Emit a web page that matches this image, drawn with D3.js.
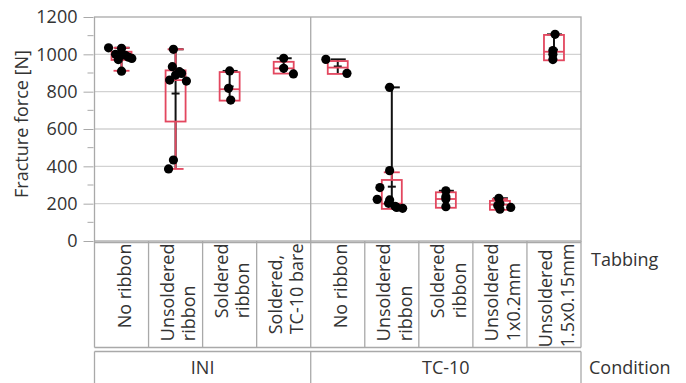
<!DOCTYPE html>
<html>
<head>
<meta http-equiv='Content-Type' content='text/html;charset=utf-8'/>
<title>Fracture force</title>
<script src='https://d3js.org/d3.v7.min.js'></script>
<style>
body {
	margin: 0;
	background: #ffffff;
	font-family: 'Open Sans', sans-serif;
}
svg text {
	fill: #333333;
	font-size: 18px;
	font-family: 'Open Sans', sans-serif;
}
</style>
</head>
<body>
<script>
'use strict'

// tabbing categories, one label (split in lines) per column
const tabbingLabels = [
	['No ribbon'],
	['Unsoldered', 'ribbon'],
	['Soldered', 'ribbon'],
	['Soldered,', 'TC-10 bare'],
	['No ribbon'],
	['Unsoldered', 'ribbon'],
	['Soldered', 'ribbon'],
	['Unsoldered', '1x0.2mm'],
	['Unsoldered', '1.5x0.15mm']
]

// condition groups and how many tabbing columns each spans
const conditions = ['INI', 'TC-10']
const conditionSpan = [4, 5]

// measured fracture forces [N] for each column
const forces = [
	[1035, 1032, 1000, 995, 990, 985, 978, 972, 910],
	[1027, 934, 907, 898, 889, 862, 857, 434, 386],
	[911, 818, 755],
	[979, 925, 895],
	[973, 898],
	[823, 377, 286, 223, 220, 202, 186, 180, 175],
	[269, 237, 225, 184],
	[229, 200, 190, 180, 170],
	[1107, 1020, 1000, 972]
]

// horizontal jitter of the points, as a share of the column width
const jitter = [
	[-0.24, 0, -0.11, 0.07, -0.04, 0.13, 0.19, -0.06, 0],
	[-0.04, -0.06, 0.07, 0.11, 0, -0.11, 0.2, -0.04, -0.13],
	[0, -0.02, 0.02],
	[0, 0, 0.18],
	[-0.22, 0.17],
	[-0.04, -0.04, -0.22, -0.27, -0.04, -0.06, 0.06, 0.09, 0.2],
	[0, 0, 0, 0],
	[-0.02, 0, -0.04, 0.2, 0],
	[0.02, -0.02, -0.02, -0.02]
]

// box plot summary
const q1 = [970, 640, 752, 897, 895, 172, 178, 167, 968]
const median = [995, 862, 813, 925, 929, 200, 225, 195, 1014]
const q3 = [1014, 914, 905, 960, 964, 327, 261, 215, 1104]
const whiskerLo = [912, 386, 752, 897, 895, 172, 178, 167, 968]
const whiskerHi = [1035, 1027, 905, 960, 964, 368, 261, 225, 1104]
const means = [988, 790, 828, 933, 935, 291, 229, 194, 1025]

const yTicks = [0, 200, 400, 600, 800, 1000, 1200]
const yMinorTicks = [100, 300, 500, 700, 900, 1100]

const width = 686
const height = 383
const plot = {left: 94.5, right: 581, top: 17, bottom: 241}
const tabRow = {top: 242.5, bottom: 347.5}
const condRow = {top: 351.5, bottom: 383}

const red = '#e3475f'
const frame = '#a9a9a9'

const svg = d3.select('body').append('svg')
	.attr('width', width)
	.attr('height', height)

const x = d3.scaleBand()
	.domain(d3.range(tabbingLabels.length))
	.range([plot.left, plot.right])

const y = d3.scaleLinear()
	.domain([0, 1200])
	.range([plot.bottom, plot.top])

// grid lines
svg.append('g')
	.selectAll('line')
	.data(yTicks.filter(function(d) { return d > 0 && d < 1200 }))
	.join('line')
	.attr('x1', plot.left)
	.attr('x2', plot.right)
	.attr('y1', function(d) { return y(d) })
	.attr('y2', function(d) { return y(d) })
	.attr('stroke', '#d2d2d2')
	.attr('stroke-width', 1.3)

// y axis with major and minor ticks
const yAxis = svg.append('g')
	.attr('transform', 'translate(' + (plot.left - 1) + ',0)')
	.call(d3.axisLeft(y).tickValues(yTicks).tickFormat(d3.format('d')).tickSize(10).tickPadding(6))
yAxis.select('.domain').remove()
yAxis.selectAll('line').attr('stroke', frame)
yAxis.attr('font-size', null).attr('font-family', null)

svg.append('g')
	.selectAll('line')
	.data(yMinorTicks)
	.join('line')
	.attr('x1', plot.left - 7)
	.attr('x2', plot.left - 1)
	.attr('y1', function(d) { return y(d) })
	.attr('y2', function(d) { return y(d) })
	.attr('stroke', frame)

svg.append('text')
	.attr('transform', 'translate(28,' + 124 + ') rotate(-90)')
	.attr('text-anchor', 'middle')
	.text('Fracture force [N]')

// condition boundaries
let bounds = [0]
conditionSpan.forEach(function(n, i) { bounds.push(bounds[i] + n) })
const boundX = bounds.map(function(b) { return b < tabbingLabels.length ? x(b) : plot.right })

// plot frame and divider
svg.append('rect')
	.attr('x', plot.left)
	.attr('y', plot.top)
	.attr('width', plot.right - plot.left)
	.attr('height', plot.bottom - plot.top)
	.attr('fill', 'none')
	.attr('stroke', frame)
	.attr('stroke-width', 1.3)

svg.append('line')
	.attr('x1', boundX[1]).attr('x2', boundX[1])
	.attr('y1', plot.top).attr('y2', plot.bottom)
	.attr('stroke', frame)
	.attr('stroke-width', 1.3)

const groups = svg.append('g')
	.selectAll('g')
	.data(forces)
	.join('g')
	.attr('transform', function(d, i) { return 'translate(' + (x(i) + x.bandwidth() / 2) + ',0)' })

// black range line from min to max, with cap and mean tick
groups.append('line')
	.attr('y1', function(d) { return y(d3.min(d)) })
	.attr('y2', function(d) { return y(d3.max(d)) })
	.attr('stroke', '#111')
	.attr('stroke-width', 2)
groups.append('line')
	.attr('x1', -7).attr('x2', 8)
	.attr('y1', function(d) { return y(d3.max(d)) })
	.attr('y2', function(d) { return y(d3.max(d)) })
	.attr('stroke', '#111')
	.attr('stroke-width', 2)
groups.append('line')
	.attr('x1', -4).attr('x2', 4)
	.attr('y1', function(d, i) { return y(means[i]) })
	.attr('y2', function(d, i) { return y(means[i]) })
	.attr('stroke', '#111')
	.attr('stroke-width', 2)

// red box plots
const boxW = 20
const capW = 16
groups.append('rect')
	.attr('x', -boxW / 2)
	.attr('width', boxW)
	.attr('y', function(d, i) { return y(q3[i]) })
	.attr('height', function(d, i) { return y(q1[i]) - y(q3[i]) })
	.attr('fill', 'none')
	.attr('stroke', red)
	.attr('stroke-width', 1.8)
groups.append('line')
	.attr('x1', -boxW / 2).attr('x2', boxW / 2)
	.attr('y1', function(d, i) { return y(median[i]) })
	.attr('y2', function(d, i) { return y(median[i]) })
	.attr('stroke', red)
	.attr('stroke-width', 1.8)

groups.each(function(d, i) {
	const g = d3.select(this)
	const whiskers = [[q3[i], whiskerHi[i]], [q1[i], whiskerLo[i]]]
	whiskers.forEach(function(w) {
		if (w[0] == w[1]) return
		g.append('line')
			.attr('y1', y(w[0])).attr('y2', y(w[1]))
			.attr('stroke', red).attr('stroke-width', 1.8)
		g.append('line')
			.attr('x1', -capW / 2).attr('x2', capW / 2)
			.attr('y1', y(w[1])).attr('y2', y(w[1]))
			.attr('stroke', red).attr('stroke-width', 1.8)
	})
})

// points
groups.selectAll('circle')
	.data(function(d, i) { return d.map(function(v, j) { return {v: v, j: jitter[i][j]} }) })
	.join('circle')
	.attr('cx', function(p) { return p.j * x.bandwidth() })
	.attr('cy', function(p) { return y(p.v) })
	.attr('r', 4.6)
	.attr('fill', '#000')

// tabbing row
const table = svg.append('g').attr('stroke', frame).attr('stroke-width', 1.3)
table.append('line')
	.attr('x1', plot.left).attr('x2', plot.right)
	.attr('y1', tabRow.top).attr('y2', tabRow.top)
table.append('line')
	.attr('x1', plot.left).attr('x2', plot.right)
	.attr('y1', tabRow.bottom).attr('y2', tabRow.bottom)
table.selectAll('.tabsep')
	.data(d3.range(tabbingLabels.length + 1))
	.join('line')
	.attr('class', 'tabsep')
	.attr('x1', function(i) { return i < tabbingLabels.length ? x(i) : plot.right })
	.attr('x2', function(i) { return i < tabbingLabels.length ? x(i) : plot.right })
	.attr('y1', plot.bottom).attr('y2', tabRow.bottom)

// labels sit at the top of the cell, lines start-aligned within the block
const lineH = 21.6
tabbingLabels.forEach(function(lines, i) {
	const cx = x(i) + x.bandwidth() / 2
	const texts = lines.map(function(t) {
		return svg.append('text').attr('text-anchor', 'start').text(t)
	})
	const maxLen = d3.max(texts, function(t) { return t.node().getComputedTextLength() })
	texts.forEach(function(t, k) {
		const bx = cx + (k - (lines.length - 1) / 2) * lineH + 9
		const by = tabRow.top + 1 + maxLen
		t.attr('transform', 'translate(' + bx + ',' + by + ') rotate(-90)')
	})
})

svg.append('text')
	.attr('x', 591)
	.attr('y', 266)
	.text('Tabbing')

// condition row
table.append('line')
	.attr('x1', plot.left).attr('x2', plot.right)
	.attr('y1', condRow.top).attr('y2', condRow.top)
table.selectAll('.condsep')
	.data(boundX)
	.join('line')
	.attr('class', 'condsep')
	.attr('x1', function(d) { return d })
	.attr('x2', function(d) { return d })
	.attr('y1', condRow.top).attr('y2', condRow.bottom)

conditions.forEach(function(c, i) {
	svg.append('text')
		.attr('x', (boundX[i] + boundX[i + 1]) / 2)
		.attr('y', 374)
		.attr('text-anchor', 'middle')
		.text(c)
})

svg.append('text')
	.attr('x', 589)
	.attr('y', 374)
	.text('Condition')
</script>
</body>
</html>
